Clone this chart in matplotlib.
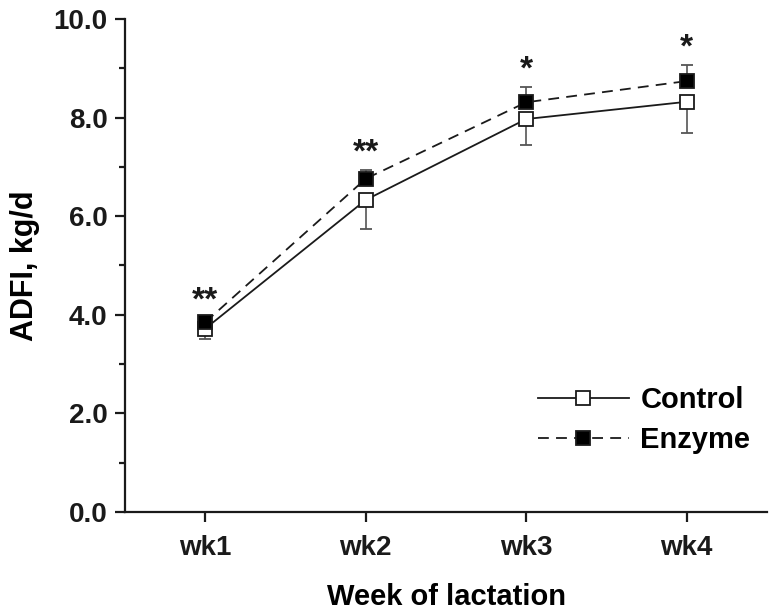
import matplotlib
matplotlib.use("Agg")
import matplotlib.pyplot as plt
from matplotlib.ticker import MultipleLocator, FormatStrFormatter
from matplotlib.lines import Line2D
import numpy as np

plt.rcParams.update({
    "font.family": ["Liberation Sans", "DejaVu Sans"],
    "font.weight": "bold",
})

weeks = ["wk1", "wk2", "wk3", "wk4"]
control = [3.72, 6.33, 7.97, 8.32]
control_sd = [0.22, 0.59, 0.52, 0.63]
enzyme = [3.85, 6.76, 8.31, 8.74]
enzyme_sd = [0.08, 0.18, 0.31, 0.33]
stars = ["**", "**", "*", "*"]

x = np.arange(1, len(weeks) + 1)
ink = "#1a1a1a"
dash = (0, (6, 4))

fig = plt.figure(figsize=(7.72, 6.11), dpi=100)
ax = fig.add_axes([0.162, 0.162, 0.8315, 0.807])

# Control: error bars downward only
ax.errorbar(x, control, yerr=[control_sd, np.zeros(len(x))],
            color=ink, lw=1.3, marker="s", ms=10, mfc="white", mec=ink,
            mew=1.3, ecolor="#555555", elinewidth=1.2, capsize=4.3,
            capthick=1.2, zorder=3)

# Enzyme: error bars upward only
ax.errorbar(x, enzyme, yerr=[np.zeros(len(x)), enzyme_sd],
            color=ink, lw=1.3, ls=dash, marker="s", ms=10, mfc="black",
            mec=ink, mew=1.3, ecolor="#555555", elinewidth=1.2, capsize=4.3,
            capthick=1.2, zorder=4)

for xi, yi, sd, s in zip(x, enzyme, enzyme_sd, stars):
    ax.annotate(s, (xi, yi + sd), xytext=(0, 1), textcoords="offset points",
                ha="center", va="bottom", fontsize=24, color=ink)

ax.set_xlim(0.5, 4.5)
ax.set_ylim(0, 10)
ax.set_xticks(x)
ax.set_xticklabels(weeks)
ax.yaxis.set_major_locator(MultipleLocator(2))
ax.yaxis.set_minor_locator(MultipleLocator(1))
ax.yaxis.set_major_formatter(FormatStrFormatter("%.1f"))

for side in ["top", "right"]:
    ax.spines[side].set_visible(False)
for side in ["left", "bottom"]:
    ax.spines[side].set_linewidth(1.6)
    ax.spines[side].set_color(ink)

ax.tick_params(axis="both", which="major", direction="out", length=7.5,
               width=1.6, labelsize=20, colors=ink, pad=5)
ax.tick_params(axis="x", which="major", pad=9)
ax.tick_params(axis="y", which="minor", direction="out", length=4.5, width=1.6,
               colors=ink)
ax.tick_params(axis="x", which="minor", bottom=False)

ax.set_xlabel("Week of lactation", fontsize=21, fontweight="bold", labelpad=16)
ax.set_ylabel("ADFI, kg/d", fontsize=22, fontweight="bold", labelpad=10)

handles = [
    Line2D([], [], color=ink, lw=1.3, marker="s", ms=10, mfc="white",
           mec=ink, mew=1.3),
    Line2D([], [], color=ink, lw=1.3, ls=dash, marker="s", ms=10,
           mfc="black", mec=ink, mew=1.3),
]
ax.legend(handles, ["Control", "Enzyme"], loc="lower right",
          bbox_to_anchor=(1.015, 0.065), frameon=False, fontsize=21,
          handlelength=3.1, handletextpad=0.4, labelspacing=0.4)

fig.savefig("out.png", dpi=100)
